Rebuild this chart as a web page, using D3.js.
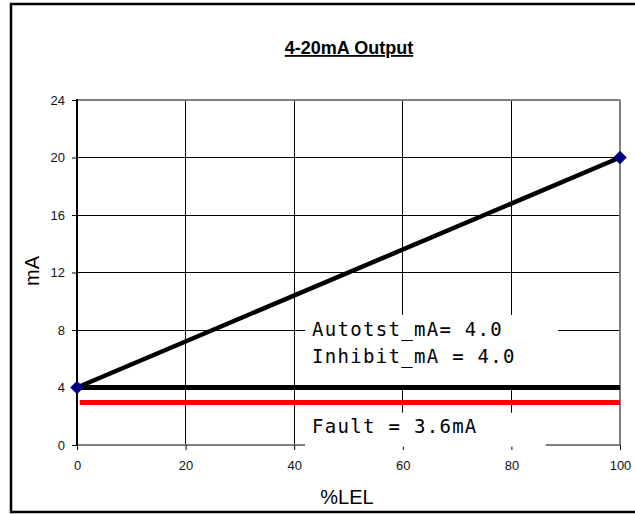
<!DOCTYPE html>
<html>
<head>
<meta charset="utf-8">
<script src="https://cdn.jsdelivr.net/npm/d3@7"></script>
<style>
  body { margin: 0; background: #fff; }
  svg { display: block; }
</style>
</head>
<body>
<svg width="635" height="514"></svg>
<script>
// donnees du graphe
var xTicks = [0, 20, 40, 60, 80, 100];
var yTicks = [0, 4, 8, 12, 16, 20, 24];
var pctLEL = [0, 100];
var outputMA = [4, 20];
var inhibitX = [0, 100];
var inhibitMA = [4, 4];
var faultX = [0.5, 100];
var faultMA = [2.95, 2.95];
var noteLines = ["Autotst_mA= 4.0", "Inhibit_mA = 4.0"];
var faultNote = "Fault = 3.6mA";

var svg = d3.select("svg");

var x = d3.scaleLinear().domain([0, 100]).range([77, 620]);
var y = d3.scaleLinear().domain([0, 24]).range([445, 100]);

// cadre exterieur
svg.append("rect")
   .attr("x", 11).attr("y", 4)
   .attr("width", 640).attr("height", 508)
   .attr("fill", "none")
   .attr("stroke", "black")
   .attr("stroke-width", 2.5);

// titre
svg.append("text")
   .attr("x", 349).attr("y", 54)
   .attr("text-anchor", "middle")
   .attr("font-family", "Liberation Sans, Arial, sans-serif")
   .attr("font-size", 18)
   .attr("font-weight", "bold")
   .attr("text-decoration", "underline")
   .text("4-20mA Output");

// grille
var grid = svg.append("g").attr("shape-rendering", "crispEdges");
grid.selectAll(".hg").data(yTicks.filter(function(d){return d > 0 && d < 24;}))
    .enter().append("line")
    .attr("x1", x(0)).attr("x2", x(100))
    .attr("y1", function(d){return y(d);}).attr("y2", function(d){return y(d);})
    .attr("stroke", "#000").attr("stroke-width", 1);
grid.selectAll(".vg").data(xTicks.filter(function(d){return d > 0 && d < 100;}))
    .enter().append("line")
    .attr("x1", function(d){return x(d);}).attr("x2", function(d){return x(d);})
    .attr("y1", y(24)).attr("y2", y(0))
    .attr("stroke", "#000").attr("stroke-width", 1);

// bordure du trace
grid.append("line").attr("x1", x(0)).attr("x2", x(100)).attr("y1", y(24)).attr("y2", y(24))
    .attr("stroke", "#808080").attr("stroke-width", 2);
grid.append("line").attr("x1", x(100)).attr("x2", x(100)).attr("y1", y(24)).attr("y2", y(0))
    .attr("stroke", "#808080").attr("stroke-width", 2);
grid.append("line").attr("x1", x(0)).attr("x2", x(100)).attr("y1", y(0)).attr("y2", y(0))
    .attr("stroke", "#808080").attr("stroke-width", 2);

// axes
var yAxis = svg.append("g")
   .attr("transform", "translate(" + x(0) + ",0)")
   .call(d3.axisLeft(y).tickValues(yTicks).tickSize(5).tickPadding(7));
var xAxis = svg.append("g")
   .attr("transform", "translate(0," + y(0) + ")")
   .call(d3.axisBottom(x).tickValues(xTicks).tickSize(5).tickPadding(11));
[yAxis, xAxis].forEach(function(a){
  a.select(".domain").remove();
  a.selectAll("line").attr("stroke", "#000");
  a.selectAll("text")
   .attr("font-family", "Liberation Sans, Arial, sans-serif")
   .attr("font-size", 13)
   .attr("fill", "#111");
});
svg.append("line").attr("x1", x(0)).attr("x2", x(0)).attr("y1", y(24) - 1).attr("y2", y(0) + 1)
   .attr("stroke", "#000").attr("stroke-width", 2);

// titres des axes
svg.append("text")
   .attr("transform", "translate(39,271) rotate(-90)")
   .attr("text-anchor", "middle")
   .attr("font-family", "Liberation Sans, Arial, sans-serif")
   .attr("font-size", 20)
   .text("mA");
svg.append("text")
   .attr("x", 347).attr("y", 504)
   .attr("text-anchor", "middle")
   .attr("font-family", "Liberation Sans, Arial, sans-serif")
   .attr("font-size", 20)
   .text("%LEL");

// boites de texte
svg.append("rect")
   .attr("x", x(42)).attr("y", y(9.05))
   .attr("width", x(88.6) - x(42)).attr("height", y(4.1) - y(9.05))
   .attr("fill", "#fff");
svg.append("rect")
   .attr("x", x(42)).attr("y", y(2.25))
   .attr("width", x(86.3) - x(42)).attr("height", y(-0.12) - y(2.25))
   .attr("fill", "#fff");

var mono = "DejaVu Sans Mono, monospace";
svg.selectAll(".note").data(noteLines).enter().append("text")
   .attr("x", 312)
   .attr("y", function(d, i){return 335.5 + i * 27.5;})
   .attr("font-family", mono)
   .attr("font-size", 19)
   .attr("letter-spacing", 1.3)
   .text(function(d){return d;});
svg.append("text")
   .attr("x", 312).attr("y", 433)
   .attr("font-family", mono)
   .attr("font-size", 19)
   .attr("letter-spacing", 1.3)
   .text(faultNote);

// courbes
var line = d3.line().x(function(d){return x(d[0]);}).y(function(d){return y(d[1]);});
svg.append("path")
   .datum(d3.zip(faultX, faultMA))
   .attr("d", line)
   .attr("stroke", "#ff0000").attr("stroke-width", 5).attr("fill", "none");
svg.append("path")
   .datum(d3.zip(inhibitX, inhibitMA))
   .attr("d", line)
   .attr("stroke", "#000").attr("stroke-width", 5).attr("fill", "none");
svg.append("path")
   .datum(d3.zip(pctLEL, outputMA))
   .attr("d", line)
   .attr("stroke", "#000").attr("stroke-width", 4.5).attr("fill", "none");

svg.selectAll(".pt").data(d3.zip(pctLEL, outputMA)).enter().append("path")
   .attr("d", d3.symbol(d3.symbolSquare, 92))
   .attr("transform", function(d){return "translate(" + x(d[0]) + "," + y(d[1]) + ") rotate(45)";})
   .attr("fill", "#000080");
</script>
</body>
</html>
